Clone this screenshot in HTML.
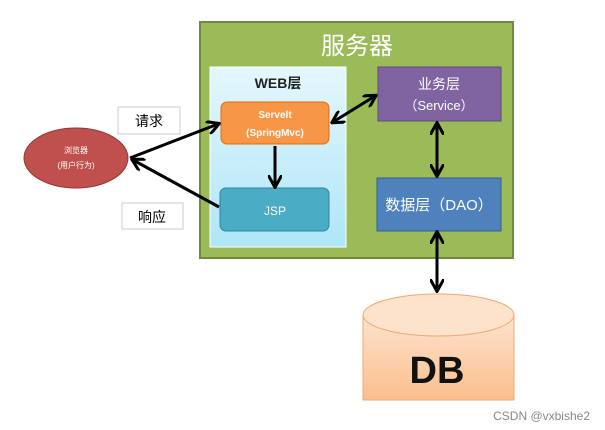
<!DOCTYPE html>
<html><head><meta charset="utf-8"><style>
body{margin:0;background:#fff;width:605px;height:430px;overflow:hidden;font-family:"Liberation Sans","Noto Sans CJK SC",sans-serif}
</style></head><body>
<svg width="605" height="430" xmlns="http://www.w3.org/2000/svg" style="position:absolute;left:0;top:0">
<defs>
<linearGradient id="web" x1="0" y1="0" x2="0" y2="1"><stop offset="0" stop-color="#e4f7fd"/><stop offset="1" stop-color="#aee6f8"/></linearGradient>
<linearGradient id="db" x1="0" y1="0" x2="0" y2="1"><stop offset="0" stop-color="#fde3cc"/><stop offset="1" stop-color="#fbbf8e"/></linearGradient>
<marker id="a" viewBox="0 0 10 10" refX="8" refY="5" markerWidth="4.6" markerHeight="4.6" orient="auto-start-reverse"><path d="M0,0 L9,5 L0,10" fill="none" stroke="#000" stroke-width="2.2"/></marker>
</defs>
<rect x="200" y="22" width="313" height="236" fill="#9bbb59" stroke="#71893f" stroke-width="2"/>
<text x="357" y="54" font-size="24" fill="#fff" text-anchor="middle">服务器</text>
<rect x="210" y="67" width="136" height="180" fill="url(#web)" stroke="#fff" stroke-width="1"/>
<text x="278" y="88" font-size="14" font-weight="bold" text-anchor="middle" fill="#222">WEB层</text>
<rect x="221" y="102" width="108" height="42" rx="6" fill="#f79646" stroke="#e46c0a"/>
<text x="275" y="118" font-size="10" font-weight="bold" fill="#fff" text-anchor="middle">Servelt</text>
<text x="275" y="136" font-size="10" font-weight="bold" fill="#fff" text-anchor="middle">(SpringMvc)</text>
<rect x="220" y="188" width="109" height="43" rx="6" fill="#4bacc6" stroke="#31849b"/>
<text x="275" y="215" font-size="12" fill="#fff" text-anchor="middle">JSP</text>
<rect x="378" y="67" width="123" height="54" fill="#8064a2" stroke="#5f4a7a"/>
<text x="439" y="89" font-size="14" fill="#fff" text-anchor="middle">业务层</text>
<text x="439" y="110" font-size="13" fill="#fff" text-anchor="middle">（Service）</text>
<rect x="377" y="178" width="124" height="53" fill="#4f81bd" stroke="#385d8a"/>
<text x="439" y="210" font-size="15" fill="#fff" text-anchor="middle">数据层（DAO）</text>
<ellipse cx="76" cy="158" rx="52" ry="30" fill="#c0504d" stroke="#8c3836"/>
<text x="76" y="153" font-size="8" fill="#fff" text-anchor="middle">浏览器</text>
<text x="76" y="168" font-size="8" fill="#fff" text-anchor="middle">(用户行为)</text>
<rect x="118" y="107" width="62" height="27" fill="#fff" stroke="#ccc"/>
<text x="149" y="126" font-size="14" text-anchor="middle">请求</text>
<rect x="122" y="203" width="61" height="26" fill="#fff" stroke="#ccc"/>
<text x="152" y="222" font-size="14" text-anchor="middle">响应</text>
<g stroke="#000" stroke-width="3" fill="none">
<line x1="130" y1="158" x2="218" y2="124" marker-end="url(#a)"/>
<line x1="219" y1="207" x2="133" y2="160" marker-end="url(#a)"/>
<line x1="333" y1="122" x2="375" y2="96" marker-start="url(#a)" marker-end="url(#a)"/>
<line x1="275" y1="146" x2="275" y2="186" marker-end="url(#a)"/>
<line x1="437" y1="124" x2="437" y2="175" marker-start="url(#a)" marker-end="url(#a)"/>
<line x1="437" y1="233" x2="437" y2="290" marker-start="url(#a)" marker-end="url(#a)"/>
</g>
<path d="M363,315 L363,400 L514,400 L514,315" fill="url(#db)" stroke="#f0a870"/>
<ellipse cx="438.5" cy="315" rx="75.5" ry="21" fill="#fde3cc" stroke="#f0a870"/>
<text x="437" y="383" font-size="38" font-weight="bold" text-anchor="middle" fill="#111">DB</text>
<text x="590" y="420" font-size="12" fill="#888" text-anchor="end">CSDN @vxbishe2</text>
</svg>
</body></html>
